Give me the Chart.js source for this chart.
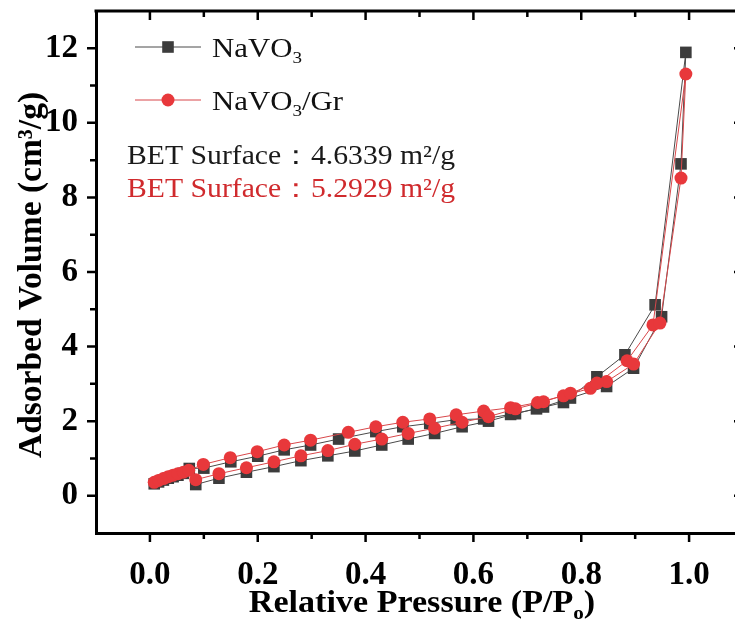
<!DOCTYPE html>
<html><head><meta charset="utf-8">
<script src="https://cdn.jsdelivr.net/npm/chart.js@4.4.1/dist/chart.umd.min.js"></script>
<style>html,body{margin:0;padding:0;overflow:hidden;background:#fff}canvas{display:block}</style>
</head><body>
<canvas id="c" width="760" height="623"></canvas>
<script>
// ---------- data ----------
const navoAdsX = [0.008,0.016,0.025,0.034,0.043,0.052,0.062,0.073,0.10,0.15,0.20,0.249,0.298,0.35,0.419,0.469,0.519,0.568,0.619,0.669,0.717,0.767,0.829,0.881,0.937,0.994];
const navoAdsY = [0.32,0.37,0.42,0.47,0.51,0.55,0.60,0.73,0.74,0.91,1.06,1.23,1.36,1.52,1.72,1.85,1.94,2.04,2.06,2.18,2.33,2.50,3.19,3.78,5.12,11.89];
const navoDesX = [0.985,0.949,0.897,0.847,0.78,0.73,0.678,0.628,0.579,0.528,0.479,0.43,0.38,0.33,0.28,0.23,0.179,0.128,0.085];
const navoDesY = [8.90,4.80,3.42,2.93,2.62,2.38,2.20,2.00,1.85,1.67,1.52,1.36,1.20,1.07,0.94,0.78,0.63,0.47,0.30];

const grAdsX = [0.008,0.016,0.025,0.034,0.043,0.052,0.062,0.072,0.099,0.149,0.199,0.249,0.298,0.368,0.419,0.469,0.519,0.568,0.619,0.669,0.719,0.767,0.817,0.885,0.933,0.994];
const grAdsY = [0.36,0.41,0.46,0.51,0.55,0.59,0.63,0.68,0.84,1.02,1.18,1.36,1.49,1.70,1.85,1.97,2.06,2.17,2.27,2.36,2.50,2.68,2.88,3.62,4.58,11.31];
const grDesX = [0.985,0.946,0.897,0.847,0.829,0.78,0.73,0.678,0.628,0.579,0.528,0.479,0.43,0.38,0.33,0.28,0.23,0.179,0.128,0.085];
const grDesY = [8.52,4.63,3.53,3.06,3.02,2.75,2.52,2.33,2.12,1.97,1.81,1.67,1.52,1.38,1.21,1.07,0.91,0.75,0.59,0.43];

const seriesLabels = ['NaVO3', 'NaVO3/Gr'];
const betTexts = ['BET Surface\uFF1A4.6339 m\u00B2/g', 'BET Surface\uFF1A5.2929 m\u00B2/g'];
const xTitle = 'Relative Pressure (P/P';
const yTitle = 'Adsorbed Volume (cm\u00B3/g)';

const X_MIN = -0.1, X_MAX = 1.1, X_STEP = 0.1;
const Y_MIN = -1, Y_MAX = 13, Y_STEP = 1;

// ---------- styles ----------
const SERIF = "'Liberation Serif','Times New Roman',serif";
const BLACK_MARK = '#3c3c3c', BLACK_LINE = '#4a4a4a';
const RED_MARK = '#e8383b', RED_LINE = '#d8474a';
const SX = 1.1;

function pts(xs, ys){ return xs.map((x,i)=>({x:x, y:ys[i]})); }

function runsWidth(ctx, runs, size, weight){
  let w = 0;
  for (const r of runs){
    const s = r.sub ? size*0.62 : size;
    ctx.font = weight + ' ' + s + 'px ' + SERIF;
    w += ctx.measureText(r.t).width;
  }
  return w;
}
function drawRuns(ctx, runs, x, y, size, weight, color, align){
  ctx.save();
  ctx.translate(x, y);
  ctx.scale(SX, 1);
  const w = runsWidth(ctx, runs, size, weight);
  let cx = align === 'center' ? -w/2 : (align === 'right' ? -w : 0);
  ctx.fillStyle = color;
  ctx.textBaseline = 'alphabetic';
  ctx.textAlign = 'left';
  for (const r of runs){
    const s = r.sub ? size*0.62 : size;
    ctx.font = weight + ' ' + s + 'px ' + SERIF;
    ctx.fillText(r.t, cx, r.sub ? size*0.22 : 0);
    cx += ctx.measureText(r.t).width;
  }
  ctx.restore();
}

const decor = {
  id: 'decor',
  afterDraw(chart){
    const ctx = chart.ctx;
    const xs = chart.scales.x, ys = chart.scales.y;
    const a = chart.chartArea;
    ctx.save();
    // top & right frame
    ctx.strokeStyle = '#000'; ctx.lineWidth = 3; ctx.lineCap = 'butt';
    ctx.beginPath();
    ctx.moveTo(a.left-1.5, a.top); ctx.lineTo(a.right+1.5, a.top);
    ctx.moveTo(a.right, a.top); ctx.lineTo(a.right, a.bottom);
    ctx.stroke();
    // ticks
    ctx.lineWidth = 2.5;
    ctx.beginPath();
    for (const t of xs.ticks){
      const p = xs.getPixelForValue(t.value);
      if (p < a.left + 2 || p > a.right - 2) continue;
      const major = Math.round(t.value*10) % 2 === 0;
      const len = major ? 9 : 6;
      ctx.moveTo(p, a.bottom); ctx.lineTo(p, a.bottom + len);
      ctx.moveTo(p, a.top); ctx.lineTo(p, a.top + len);
    }
    for (const t of ys.ticks){
      const p = ys.getPixelForValue(t.value);
      if (p < a.top + 2 || p > a.bottom - 2) continue;
      const major = Math.round(t.value) % 2 === 0;
      const len = major ? 9 : 6;
      ctx.moveTo(a.left - len, p); ctx.lineTo(a.left, p);
      ctx.moveTo(a.right - len, p); ctx.lineTo(a.right, p);
    }
    ctx.stroke();

    // axis titles
    drawRuns(ctx, [{t:xTitle},{t:'o',sub:true},{t:')'}], 422, 612, 31, 'bold', '#000', 'center');
    ctx.save();
    ctx.translate(41, 275);
    ctx.rotate(-Math.PI/2);
    ctx.font = 'bold 33.5px ' + SERIF;
    ctx.fillStyle = '#000'; ctx.textAlign = 'center'; ctx.textBaseline = 'alphabetic';
    ctx.fillText(yTitle, 0, 0);
    ctx.restore();

    // legend
    const ds = chart.data.datasets;
    const rows = [47, 100];
    const legRuns = [
      [{t:'NaVO'},{t:'3',sub:true}],
      [{t:'NaVO'},{t:'3',sub:true},{t:'/Gr'}]
    ];
    ds.forEach((d, i) => {
      const y = rows[i];
      ctx.strokeStyle = d.borderColor; ctx.lineWidth = 1;
      ctx.beginPath(); ctx.moveTo(135, y); ctx.lineTo(201, y); ctx.stroke();
      ctx.fillStyle = d.pointBackgroundColor;
      ctx.strokeStyle = d.pointBorderColor;
      Chart.helpers.drawPoint(ctx, {pointStyle: d.pointStyle, radius: d.pointRadius, borderWidth: 0, rotation: 0}, 168, y);
      drawRuns(ctx, legRuns[i], 212, y + 10, 28, 'normal', '#111', 'left');
    });
    // BET annotations
    drawRuns(ctx, [{t:betTexts[0]}], 127, 164, 27, 'normal', '#1a1a1a', 'left');
    drawRuns(ctx, [{t:betTexts[1]}], 127, 197, 27, 'normal', '#d02a2d', 'left');
    ctx.restore();
  }
};

new Chart(document.getElementById('c'), {
  type: 'scatter',
  data: {
    datasets: [
      {
        label: seriesLabels[0],
        data: pts(navoAdsX.concat(navoDesX), navoAdsY.concat(navoDesY)),
        showLine: true, borderColor: BLACK_LINE, borderWidth: 1,
        pointStyle: 'rect', pointRadius: 8.2, pointBackgroundColor: BLACK_MARK,
        pointBorderColor: BLACK_MARK, pointBorderWidth: 0, order: 2, tension: 0
      },
      {
        label: seriesLabels[1],
        data: pts(grAdsX.concat(grDesX), grAdsY.concat(grDesY)),
        showLine: true, borderColor: RED_LINE, borderWidth: 1,
        pointStyle: 'circle', pointRadius: 6.5, pointBackgroundColor: RED_MARK,
        pointBorderColor: RED_MARK, pointBorderWidth: 0, order: 1, tension: 0
      }
    ]
  },
  options: {
    responsive: false, animation: false,
    layout: { padding: { top: 11, right: 17, left: 0, bottom: 0 } },
    plugins: { legend: { display: false }, tooltip: { enabled: false } },
    scales: {
      x: {
        type: 'linear', min: X_MIN, max: X_MAX,
        afterFit: s => { s.height = 90; s.paddingLeft = 0; s.paddingRight = 0; },
        border: { display: true, width: 3, color: '#000' },
        grid: { display: true, drawOnChartArea: false, drawTicks: true, tickLength: 9, color: 'rgba(0,0,0,0)' },
        ticks: {
          stepSize: X_STEP, autoSkip: false, maxRotation: 0, padding: 14, color: '#000',
          font: { family: SERIF, size: 33, weight: 'bold' },
          callback: v => (Math.round(v*10) % 2 === 0 ? v.toFixed(1) : '')
        }
      },
      y: {
        type: 'linear', min: Y_MIN, max: Y_MAX,
        afterFit: s => { s.width = 96; s.paddingTop = 0; s.paddingBottom = 0; },
        border: { display: true, width: 3, color: '#000' },
        grid: { display: true, drawOnChartArea: false, drawTicks: true, tickLength: 9, color: 'rgba(0,0,0,0)' },
        ticks: {
          stepSize: Y_STEP, autoSkip: false, padding: 9, color: '#000',
          font: { family: SERIF, size: 33, weight: 'bold' },
          callback: v => (v >= 0 && v <= 12 && Math.round(v) % 2 === 0 ? String(v) : '')
        }
      }
    }
  },
  plugins: [decor]
});
</script>
</body></html>
